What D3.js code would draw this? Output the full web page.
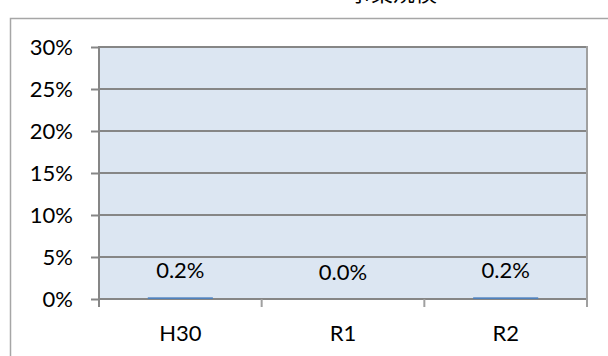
<!DOCTYPE html>
<html>
<head>
<meta charset="utf-8">
<script src="https://cdn.jsdelivr.net/npm/d3@7"></script>
<style>
  html, body { margin: 0; padding: 0; background: #fff; }
  svg { display: block; }
  text { font-family: Lato, "Open Sans", "Noto Sans", sans-serif; fill: #000; }
</style>
</head>
<body>
<svg id="chart" width="608" height="356"></svg>
<script>
// Chart data
const title = "事業規模";
const categories = ["H30", "R1", "R2"];
const values = [0.2, 0.0, 0.2];           // percent
const yTicks = [0, 5, 10, 15, 20, 25, 30]; // percent

const W = 608, H = 356;
const margin = { left: 99, right: 21, top: 47, bottom: 57 };
const svg = d3.select("#chart");

// Outer chart frame (extends beyond the visible window on the right and bottom)
svg.append("rect")
  .attr("x", 10.5).attr("y", 18.5)
  .attr("width", 700).attr("height", 400)
  .attr("fill", "none")
  .attr("stroke", "#a6a6a6")
  .attr("stroke-width", 1.5);

// Title, sitting mostly above the top edge
svg.append("text")
  .attr("x", 393).attr("y", 1)
  .attr("text-anchor", "middle")
  .style("font-family", "'Noto Sans CJK JP', sans-serif")
  .style("font-size", "22px")
  .text(title);

const x = d3.scaleBand()
  .domain(categories)
  .range([margin.left, W - margin.right])
  .paddingInner(0.6)
  .paddingOuter(0.3);

const y = d3.scaleLinear()
  .domain([0, 30])
  .range([H - margin.bottom, margin.top]);

const x0 = margin.left, x1 = W - margin.right;
const yB = y(0), yT = y(30);

// Plot area background
svg.append("rect")
  .attr("x", x0).attr("y", yT)
  .attr("width", x1 - x0).attr("height", yB - yT)
  .attr("fill", "#dce6f2");

// Horizontal gridlines
svg.append("g")
  .selectAll("line")
  .data(yTicks)
  .join("line")
  .attr("x1", x0).attr("x2", x1)
  .attr("y1", d => y(d)).attr("y2", d => y(d))
  .attr("stroke", "#868686")
  .attr("stroke-width", 2);

// Bars
svg.append("g")
  .selectAll("rect")
  .data(values)
  .join("rect")
  .attr("x", (d, i) => x(categories[i]))
  .attr("width", x.bandwidth())
  .attr("y", d => y(d))
  .attr("height", d => yB - y(d))
  .attr("fill", "#4f81bd");

// Value labels
svg.append("g")
  .selectAll("text")
  .data(values)
  .join("text")
  .attr("x", (d, i) => x(categories[i]) + x.bandwidth() / 2)
  .attr("y", d => y(d) - 19)
  .attr("text-anchor", "middle")
  .style("font-size", "22px")
  .text(d => d.toFixed(1) + "%");

// Y axis
const yAxis = d3.axisLeft(y)
  .tickValues(yTicks)
  .tickSize(8)
  .tickPadding(18)
  .tickFormat(d => d + "%");
const gy = svg.append("g")
  .attr("transform", `translate(${x0},0)`)
  .call(yAxis);
gy.select(".domain").remove();
gy.selectAll(".tick line").attr("stroke", "#868686").attr("stroke-width", 2);
gy.selectAll(".tick text")
  .attr("dy", "0.36em")
  .style("font-size", "22px")
  .style("font-family", "Lato, 'Open Sans', sans-serif")
  .attr("fill", "#000");

// Axis lines: left and right edges extend a little below the base line
svg.append("line")
  .attr("x1", x0).attr("x2", x0).attr("y1", yT - 1).attr("y2", yB + 8)
  .attr("stroke", "#868686").attr("stroke-width", 2);
svg.append("line")
  .attr("x1", x1).attr("x2", x1).attr("y1", yT - 1).attr("y2", yB + 8)
  .attr("stroke", "#a0a0a0").attr("stroke-width", 2);

// Category separators on the base line
const step = (x1 - x0) / categories.length;
svg.append("g")
  .selectAll("line")
  .data(categories.slice(1))
  .join("line")
  .attr("x1", (d, i) => x0 + step * (i + 1))
  .attr("x2", (d, i) => x0 + step * (i + 1))
  .attr("y1", yB).attr("y2", yB + 8)
  .attr("stroke", "#a0a0a0").attr("stroke-width", 2);

// Category labels
svg.append("g")
  .selectAll("text")
  .data(categories)
  .join("text")
  .attr("x", d => x(d) + x.bandwidth() / 2)
  .attr("y", 341)
  .attr("text-anchor", "middle")
  .style("font-size", "22px")
  .text(d => d);
</script>
</body>
</html>
